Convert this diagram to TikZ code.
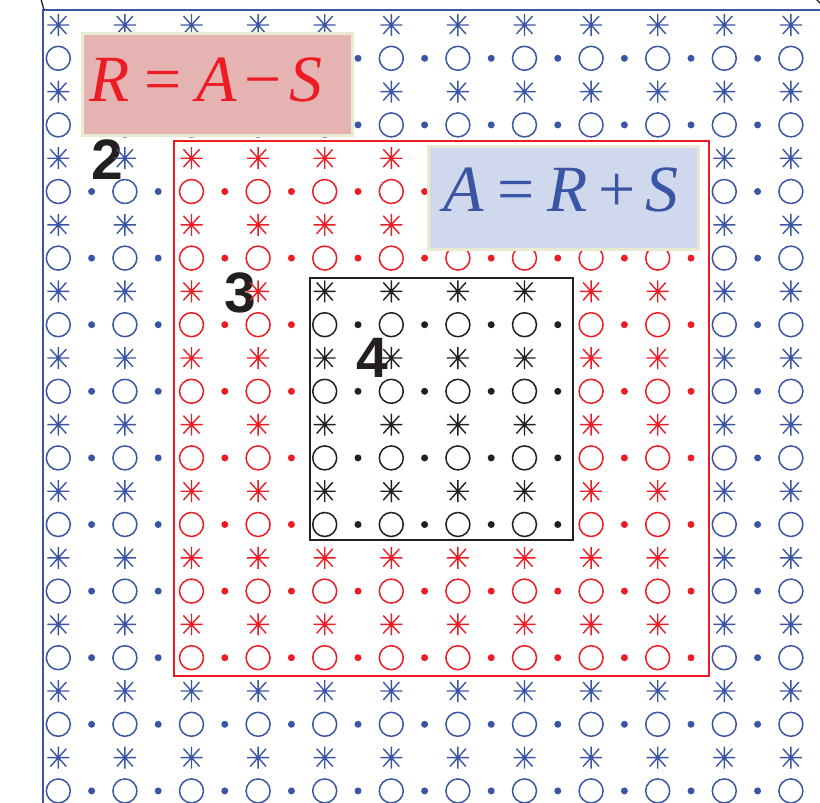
\documentclass[tikz,border=0pt]{standalone}
\usepackage{fontspec}
\newfontfamily\tms{Liberation Serif}
\newfontfamily\hlv{Liberation Sans}
\definecolor{cblue}{HTML}{3A55A4}
\definecolor{cred}{HTML}{ED1C24}
\definecolor{cblack}{HTML}{231F20}
\definecolor{pinkfill}{HTML}{E6B3B3}
\definecolor{bluefill}{HTML}{CFD8EC}
\definecolor{paleedge}{HTML}{E8EBD2}
\tikzset{
  ring/.style={line width=1.5pt},
  starline/.style={line width=1.4pt},
  eqbox/.style={draw=paleedge, line width=3pt, inner sep=0pt, anchor=north west},
  eqtext/.style={inner sep=0pt, font=\tms\fontsize{66}{66}\selectfont},
  numlabel/.style={inner sep=0pt, text=cblack, font=\hlv\bfseries\fontsize{57}{57}\selectfont},
  frame/.style={line width=1.5pt}
}
\begin{document}
\begin{tikzpicture}[x=1pt,y=-1pt]
\useasboundingbox (0,0) rectangle (820,803);
\clip (0,0) rectangle (820,803);
% labels (behind the grid)
\node[numlabel] (n2) at (107,160) {2};
\node[numlabel] (n3) at (240,293) {3};
\node[numlabel] (n4) at (372,358) {4};
% grid
\foreach \i in {0,...,11}{
  \foreach \j in {0,...,11}{
    \pgfmathtruncatemacro\L{min(min(\i,11-\i),min(\j,11-\j))}
    \ifnum\L>3 \def\cc{cblack}\else\ifnum\L>1 \def\cc{cred}\else\def\cc{cblue}\fi\fi
    \pgfmathsetmacro\X{58.3+66.6*\i}
    \pgfmathsetmacro\Ys{25+66.6*\j}
    \pgfmathsetmacro\Yc{58.3+66.6*\j}
    \draw[\cc,ring] (\X,\Yc) circle[radius=12];
    \fill[\cc] (\X+33.3,\Yc) circle[radius=3.5];
    \draw[\cc,starline] (\X,\Ys) +(0:11) -- +(180:11) +(90:11) -- +(270:11)
      +(48:12) -- +(228:12) +(132:12) -- +(312:12);
  }
}
% outer blue frame
\coordinate (ftl) at (43,10);
\coordinate (ftr) at (822,10);
\coordinate (fbl) at (43,805);
\draw[cblue,line width=1.3pt] (ftr) -- (ftl) -- (fbl);
% black corner marks
\coordinate (k1) at (41,-1);
\coordinate (k2) at (44,10);
\draw[cblack,line width=1.3pt] (k1) -- (k2);
\coordinate (k3) at (816,-1);
\coordinate (k4) at (821,4);
\draw[cblack,line width=1.3pt] (k3) .. controls (818,2) .. (k4);
% red and black frames
\node[draw=cred,frame,inner sep=0pt,minimum width=535pt,minimum height=535pt,anchor=north west] (redbox) at (173,140) {};
\node[draw=cblack,frame,inner sep=0pt,minimum width=263pt,minimum height=262pt,anchor=north west] (blackbox) at (309,277) {};
% equation boxes
\node[eqbox,fill=pinkfill,minimum width=270pt,minimum height=102pt] (rbox) at (80.5,31.5) {};
\node[eqtext,text=cred] (rtext) at (206,80) {\itshape R\hspace{0.22em}\upshape=\hspace{0.22em}\itshape A\hspace{0.12em}\upshape\char"2212\hspace{0.12em}\itshape S};
\node[eqbox,fill=bluefill,minimum width=270pt,minimum height=103pt] (abox) at (426.5,144.5) {};
\node[eqtext,text=cblue] (atext) at (561,190) {\itshape A\hspace{0.2em}\upshape=\hspace{0.2em}\itshape R\hspace{0.15em}\upshape+\hspace{0.15em}\itshape S};
\end{tikzpicture}
\end{document}
